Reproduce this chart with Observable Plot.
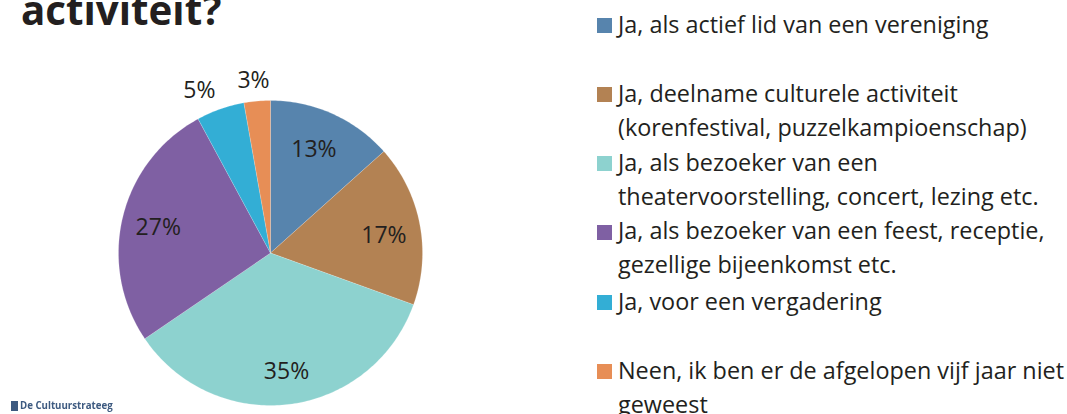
<!DOCTYPE html>
<html><head><meta charset="utf-8">
<script src="https://cdn.jsdelivr.net/npm/d3@7"></script>
<script src="https://cdn.jsdelivr.net/npm/@observablehq/plot@0.6"></script>
<style>
html,body{margin:0;padding:0;background:#fff;overflow:hidden;width:1067px;height:414px}
#wrap{position:relative;width:1067px;height:414px;overflow:hidden;font-family:"Open Sans",sans-serif;color:#231f20}
#wrap svg{position:absolute;left:0;top:0;background:transparent}
#title{position:absolute;left:21px;top:-20px;font-size:40.3px;line-height:60px;font-weight:700;white-space:nowrap}
.item{position:absolute;left:618px;font-size:23.4px;line-height:33.5px;white-space:nowrap}
.item i{position:absolute;left:-21px;width:15px;height:15px;display:block}
#logo{position:absolute;left:20px;top:399px;font-size:9.7px;line-height:14px;font-weight:700;color:#3d5a80;filter:blur(.6px);white-space:nowrap}
#logo i{position:absolute;left:-9px;top:2px;width:7px;height:10px;background:#3d5a80;display:block}
</style></head><body>
<div id="wrap"></div>
<script>
const titleText = "activiteit?";
const categories = [
  "Ja, als actief lid van een vereniging",
  "Ja, deelname culturele activiteit\n(korenfestival, puzzelkampioenschap)",
  "Ja, als bezoeker van een\ntheatervoorstelling, concert, lezing etc.",
  "Ja, als bezoeker van een feest, receptie,\ngezellige bijeenkomst etc.",
  "Ja, voor een vergadering",
  "Neen, ik ben er de afgelopen vijf jaar niet\ngeweest"
];
const values = [13.4, 17.1, 35.0, 26.6, 5.1, 2.8];
const labels = ["13%", "17%", "35%", "27%", "5%", "3%"];
const colors = ["#5784ad", "#b38253", "#8dd2cf", "#7f60a3", "#33aed5", "#e78e56"];

// page layout, kept apart from the data
const legendTops = [8, 77, 146, 214, 285, 354];
const swatchTops = [18, 87, 156, 225, 295, 364];
const labelNudge = [[-0.025, 0], [0, -0.02], [0.01, -0.01], [0, 0], [-0.085, -0.015], [-0.01, -0.015]];

const total = d3.sum(values);
const polar = (a, r) => ({x: r * Math.sin(a), y: r * Math.cos(a)});
let acc = 0;
const slices = [], labelRows = [];
values.forEach((v, i) => {
  const a0 = acc / total * 2 * Math.PI;
  acc += v;
  const a1 = acc / total * 2 * Math.PI;
  const n = Math.max(2, Math.ceil((a1 - a0) * 60));
  slices.push({...polar(0, 0), i});
  d3.range(n + 1).forEach(k => slices.push({...polar(a0 + (a1 - a0) * k / n, 1), i}));
  slices.push({...polar(0, 0), i});
  const p = polar((a0 + a1) / 2, v > 10 ? 0.76 : 1.16);
  labelRows.push({x: p.x + labelNudge[i][0], y: p.y + labelNudge[i][1], label: labels[i]});
});

const chart = Plot.plot({
  width: 1067, height: 414,
  margin: 0,
  x: {domain: [-1, 1], range: [118, 422], axis: null},
  y: {domain: [-1, 1], range: [405, 100], axis: null},
  color: {type: "ordinal", domain: d3.range(values.length), range: colors},
  marks: [
    Plot.line(slices, {x: "x", y: "y", z: "i", fill: d => d.i, stroke: "#ffffff", strokeOpacity: 0.25, strokeWidth: 0.7, curve: "linear"}),
    Plot.text(labelRows, {x: "x", y: "y", dy: 2, text: "label", fontSize: 23, fill: "#231f20", fontFamily: "Open Sans"})
  ]
});
const wrap = document.getElementById("wrap");
wrap.appendChild(chart);

const t = document.createElement("div"); t.id = "title"; t.textContent = titleText; wrap.appendChild(t);
categories.forEach((c, i) => {
  const d = document.createElement("div"); d.className = "item"; d.style.top = legendTops[i] + "px";
  const sw = document.createElement("i"); sw.style.background = colors[i]; sw.style.top = (swatchTops[i] - legendTops[i]) + "px"; d.appendChild(sw);
  c.split("\n").forEach((ln, k) => { if (k) d.appendChild(document.createElement("br")); d.appendChild(document.createTextNode(ln)); });
  wrap.appendChild(d);
});
const logo = document.createElement("div"); logo.id = "logo"; logo.innerHTML = "<i></i>De Cultuurstrateeg"; wrap.appendChild(logo);
</script>
</body></html>
